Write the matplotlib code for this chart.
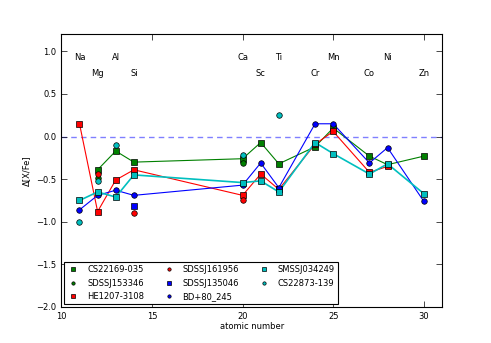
import matplotlib
matplotlib.use("Agg")
import matplotlib.pyplot as plt

# element labels (Z, symbol)
elem_z = [11, 12, 13, 14, 20, 21, 22, 24, 25, 27, 28, 30]
elem_sym = ["Na", "Mg", "Al", "Si", "Ca", "Sc", "Ti", "Cr", "Mn", "Co", "Ni", "Zn"]

# CS22169-035 (green squares, joined)
cs22169_z = [12, 13, 14, 20, 21, 22, 24, 25, 27, 28, 30]
cs22169_v = [-0.39, -0.17, -0.30, -0.26, -0.07, -0.32, -0.12, 0.10, -0.23, -0.33, -0.23]

# SDSSJ153346 (green circles)
sdss153346_z = [12, 20]
sdss153346_v = [-0.49, -0.31]

# HE1207-3108 (red squares, joined)
he1207_z = [11, 12, 13, 14, 20, 21, 22, 24, 25, 27, 28]
he1207_v = [0.15, -0.88, -0.51, -0.39, -0.69, -0.44, -0.62, -0.09, 0.06, -0.42, -0.35]

# SDSSJ161956 (red circles)
sdss161956_z = [12, 14, 20]
sdss161956_v = [-0.44, -0.90, -0.74]

# SDSSJ135046 (blue squares)
sdss135046_z = [14, 22]
sdss135046_v = [-0.82, -0.61]

# BD+80_245 (blue circles, joined)
bd80_z = [11, 12, 13, 14, 20, 21, 22, 24, 25, 27, 28, 30]
bd80_v = [-0.86, -0.69, -0.63, -0.69, -0.57, -0.31, -0.60, 0.15, 0.15, -0.31, -0.13, -0.76]

# SMSSJ034249 (cyan squares, joined)
smss_z = [11, 12, 13, 14, 20, 21, 22, 24, 25, 27, 28, 30]
smss_v = [-0.75, -0.65, -0.71, -0.45, -0.54, -0.52, -0.65, -0.07, -0.20, -0.44, -0.32, -0.67]

# CS22873-139 (cyan circles)
cs22873_z = [11, 12, 13, 20, 22]
cs22873_v = [-1.00, -0.52, -0.10, -0.22, 0.25]

fs = 6
plt.rcParams['font.size'] = fs
fig = plt.figure(figsize=(4.91, 3.43), dpi=100)
ax = fig.add_axes([0.125, 0.105, 0.775, 0.795])

green = (0, 0.5, 0)
cyan = (0, 0.75, 0.75)
ms = 4.0

ax.axhline(0, color='b', alpha=0.5, linestyle='--', dashes=(4, 3), lw=1.0, zorder=1)

# joined lines
for z, v, c in [(cs22169_z, cs22169_v, green), (he1207_z, he1207_v, 'r'),
                (bd80_z, bd80_v, 'b'), (smss_z, smss_v, cyan)]:
    ax.plot(z, v, '-', color=c, lw=0.8 if c != cyan else 1.2, zorder=2)

series = [
    ("CS22169-035", cs22169_z, cs22169_v, green, 's'),
    ("SDSSJ153346", sdss153346_z, sdss153346_v, green, 'o'),
    ("HE1207-3108", he1207_z, he1207_v, 'r', 's'),
    ("SDSSJ161956", sdss161956_z, sdss161956_v, 'r', 'o'),
    ("SDSSJ135046", sdss135046_z, sdss135046_v, 'b', 's'),
    ("BD+80_245", bd80_z, bd80_v, 'b', 'o'),
    ("SMSSJ034249", smss_z, smss_v, cyan, 's'),
    ("CS22873-139", cs22873_z, cs22873_v, cyan, 'o'),
]
for name, z, v, c, m in series:
    ax.plot(z, v, linestyle='none', marker=m, color=c, ms=ms, mec='k', mew=0.5,
            label=name, zorder=3)

for i, (z, s) in enumerate(zip(elem_z, elem_sym)):
    y = 0.93 if i % 2 == 0 else 0.74
    ax.text(z, y, s, ha='center', va='center', fontsize=fs)

ax.set_xlim(10, 31)
ax.set_ylim(-2.0, 1.2)
ax.set_xticks([10, 15, 20, 25, 30])
ax.set_yticks([-2.0, -1.5, -1.0, -0.5, 0.0, 0.5, 1.0])
ax.tick_params(direction='in', top=True, right=True, length=4, width=0.5, labelsize=fs)
for sp in ax.spines.values():
    sp.set_linewidth(0.8)
ax.set_xlabel("atomic number", fontsize=fs, labelpad=1)
ax.set_ylabel("Δ[X/Fe]", fontsize=fs)

leg = ax.legend(loc='lower left', ncol=3, fontsize=fs, markerscale=0.6,
                fancybox=False, framealpha=1, edgecolor='k',
                borderaxespad=0.3, handletextpad=0.9, columnspacing=2.2,
                labelspacing=0.55, handlelength=1.5)
leg.get_frame().set_linewidth(0.8)

fig.savefig("out.png", dpi=100)
